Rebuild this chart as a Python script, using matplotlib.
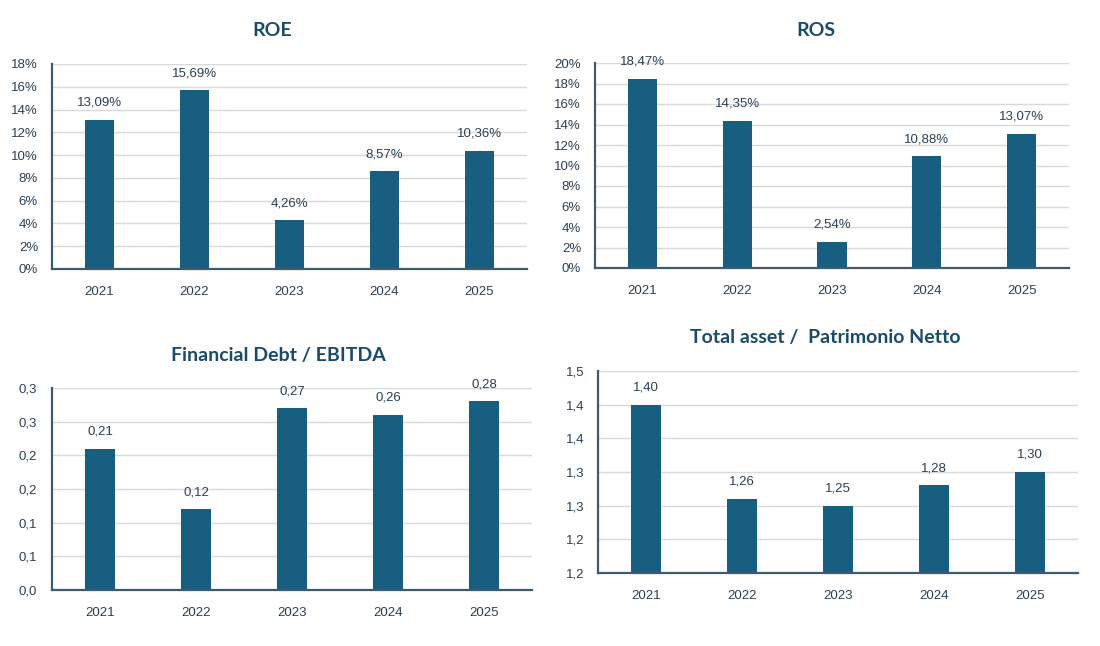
import matplotlib
matplotlib.use("Agg")
import matplotlib.pyplot as plt
import numpy as np
from decimal import Decimal, ROUND_HALF_UP

years = ["2021", "2022", "2023", "2024", "2025"]
roe = [13.09, 15.69, 4.26, 8.57, 10.36]
ros = [18.47, 14.35, 2.54, 10.88, 13.07]
debt_ebitda = [0.21, 0.12, 0.27, 0.26, 0.28]
asset_pn = [1.40, 1.26, 1.25, 1.28, 1.30]

bar_col = "#175e80"
txt_col = "#2b3f52"
title_col = "#1a4b6b"
grid_col = "#d9d9d9"
spine_col = "#3f5b6c"

plt.rcParams['font.family'] = ['Liberation Sans', 'DejaVu Sans']

W, H = 1100, 646
fig = plt.figure(figsize=(W / 100, H / 100), dpi=100)


def pct_lbl(v):
    return f"{v:.2f}%".replace(".", ",")


def num_lbl(v):
    return f"{v:.2f}".replace(".", ",")


def round1(v):
    d = Decimal(str(round(v, 6))).quantize(Decimal("0.1"), rounding=ROUND_HALF_UP)
    return str(d).replace(".", ",")


def panel(px_left, px_top, px_right, px_bottom, vals, ylim, step, ytick_fmt, lbl_fmt,
          title, title_x, title_y, ypad):
    ax = fig.add_axes([px_left / W, 1 - px_bottom / H,
                       (px_right - px_left) / W, (px_bottom - px_top) / H])
    x = np.arange(len(years))
    bars = ax.bar(x, vals, width=0.31, color=bar_col, zorder=3)
    ax.set_xlim(-0.5, len(years) - 0.5)
    ax.set_ylim(*ylim)
    ticks = np.arange(ylim[0], ylim[1] + step / 2, step)
    ax.set_yticks(ticks)
    ax.set_yticklabels([ytick_fmt(t) for t in ticks])
    ax.set_xticks(x)
    ax.set_xticklabels(years)
    ax.tick_params(axis="both", length=0, colors=txt_col, labelsize=9.5)
    ax.tick_params(axis="x", pad=12)
    ax.tick_params(axis="y", pad=ypad)
    ax.yaxis.grid(True, color=grid_col, linewidth=1, zorder=0)
    for s in ["top", "right"]:
        ax.spines[s].set_visible(False)
    for s in ["left", "bottom"]:
        ax.spines[s].set_color(spine_col)
        ax.spines[s].set_linewidth(1.6)
        ax.spines[s].set_zorder(4)
    for b, v in zip(bars, vals):
        ax.annotate(lbl_fmt(v), (b.get_x() + b.get_width() / 2, b.get_height()),
                    xytext=(0, 8), textcoords="offset points",
                    ha="center", va="bottom", fontsize=9.5, color=txt_col)
    fig.text(title_x / W, 1 - title_y / H, title, ha="center", va="center",
             fontsize=14, fontweight="bold", color=title_col,
             family=["Lato", "DejaVu Sans"])
    return ax


panel(52, 64, 527, 269, roe, (0, 18), 2, lambda t: f"{t:.0f}%", pct_lbl,
      "ROE", 272, 30, 10)
panel(595, 63, 1069, 268, ros, (0, 20), 2, lambda t: f"{t:.0f}%", pct_lbl,
      "ROS", 816, 30, 10)
panel(52, 388, 532, 590, debt_ebitda, (0, 0.30), 0.05, round1, num_lbl,
      "Financial Debt / EBITDA", 278, 355, 11)
panel(598, 371, 1078, 573, asset_pn, (1.15, 1.45), 0.05, round1, num_lbl,
      "Total asset /  Patrimonio Netto", 825, 337, 10)

fig.savefig("out.png", dpi=100, facecolor="white")
